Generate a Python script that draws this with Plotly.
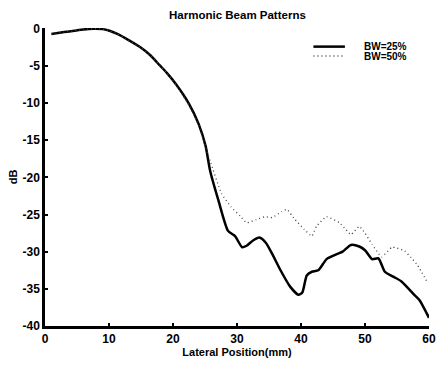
import plotly.graph_objects as go

x_bw25 = [1, 3, 4.6, 6, 7.5, 9, 10.2, 11.3, 13, 14.9, 16.5, 17.9, 19, 20.5, 22.5, 24, 25.1, 25.8,
          27.1, 28.6, 29.7, 30.8, 31.5, 32.5, 33.5, 34.5, 35.5, 36.8, 38.3, 39.6, 40.2, 40.9,
          41.7, 42.7, 44, 45.7, 46.5, 47.8, 49.1, 50, 51.1, 52.1, 53.1, 54.5, 55.7, 57.7, 58.5, 60]
y_bw25 = [-0.7, -0.45, -0.26, -0.1, 0, -0.05, -0.3, -0.7, -1.5, -2.5, -3.6, -4.9, -5.9, -7.5,
          -10.1, -12.8, -15.8, -19.1, -23.1, -27.2, -27.9, -29.4, -29.2, -28.5, -28.1, -28.8,
          -30.3, -32.5, -34.7, -35.8, -35.5, -33.2, -32.7, -32.5, -31, -30.3, -30, -29.1,
          -29.3, -29.8, -31, -30.9, -32.7, -33.4, -34, -35.8, -36.5, -38.9]

x_bw50 = [1, 3, 4.6, 6, 7.5, 9, 10.2, 11.3, 13, 14.9, 16.5, 17.9, 19, 20.5, 22.5, 24, 25.1,
          25.8, 27.6, 29.1, 30.5, 31.5, 33, 34.3, 35.5, 37, 37.8, 38.9, 40.5, 41.7, 42.4, 44,
          46, 47, 47.8, 49.1, 50, 51.1, 52.6, 54.2, 55, 56.2, 57.2, 58.2, 59.8]
y_bw50 = [-0.7, -0.45, -0.26, -0.1, 0, -0.05, -0.3, -0.7, -1.5, -2.5, -3.6, -4.9, -5.9, -7.6,
          -10.3, -13.0, -15.9, -17.8, -22.2, -24, -25.2, -26.1, -25.7, -25.3, -25.4, -24.6,
          -24.3, -25.5, -27, -27.9, -26.6, -25.3, -26.1, -27, -27.7, -26.6, -27.5, -29,
          -30.7, -29.4, -29.5, -29.9, -30.8, -31.8, -34.2]

x_ticks = [0, 10, 20, 30, 40, 50, 60]
y_ticks = [0, -5, -10, -15, -20, -25, -30, -35, -40]
series_names = ["BW=25%", "BW=50%"]

font_family = "Liberation Sans, Arial, sans-serif"
solid_style = dict(color="black", width=2.5)
dot_style = dict(color="#444444", width=1.3, dash="1px,3px")

fig = go.Figure()
fig.add_trace(go.Scatter(x=x_bw25, y=y_bw25, mode="lines", name=series_names[0], showlegend=False,
                         line=dict(shape="spline", smoothing=0.6, **solid_style)))
fig.add_trace(go.Scatter(x=x_bw50, y=y_bw50, mode="lines", name=series_names[1], showlegend=False,
                         line=dict(shape="spline", smoothing=0.4, **dot_style)))

axis_common = dict(showgrid=False, zeroline=False, showline=True, linecolor="black", linewidth=2.5,
                   ticks="inside", ticklen=3, tickwidth=2, tickcolor="black",
                   tickfont=dict(family=font_family, size=12, color="black"))

# legend drawn as key lines + labels
legend_rows = [(0.9375, solid_style), (0.906, dot_style)]
for (yp, st), name in zip(legend_rows, series_names):
    fig.add_shape(type="line", xref="paper", yref="paper", x0=0.699, x1=0.781, y0=yp, y1=yp,
                  line=st)
    fig.add_annotation(xref="paper", yref="paper", x=0.825, y=yp, xanchor="left", yanchor="middle",
                       text="<b>%s</b>" % name, showarrow=False,
                       font=dict(family=font_family, size=10, color="black"))

fig.update_layout(
    width=448, height=366,
    margin=dict(l=43, r=13, t=28, b=34),
    paper_bgcolor="white", plot_bgcolor="white",
    title=dict(text="<b>Harmonic Beam Patterns</b>", x=0.53, xanchor="center", y=0.96, yanchor="middle",
               font=dict(family=font_family, size=11.5, color="black")),
    xaxis=dict(range=[0, 60], tickvals=x_ticks, ticktext=["<b>%d</b>" % v for v in x_ticks],
               title=dict(text="<b>Lateral Position(mm)</b>", standoff=0,
                          font=dict(family=font_family, size=11, color="black")),
               **axis_common),
    yaxis=dict(range=[-40, 0.1], tickvals=y_ticks, ticktext=["<b>%d</b>" % v for v in y_ticks],
               title=dict(text="<b>dB</b>", standoff=3,
                          font=dict(family=font_family, size=11, color="black")),
               **axis_common),
    showlegend=False,
)

fig.write_html("out.html")
